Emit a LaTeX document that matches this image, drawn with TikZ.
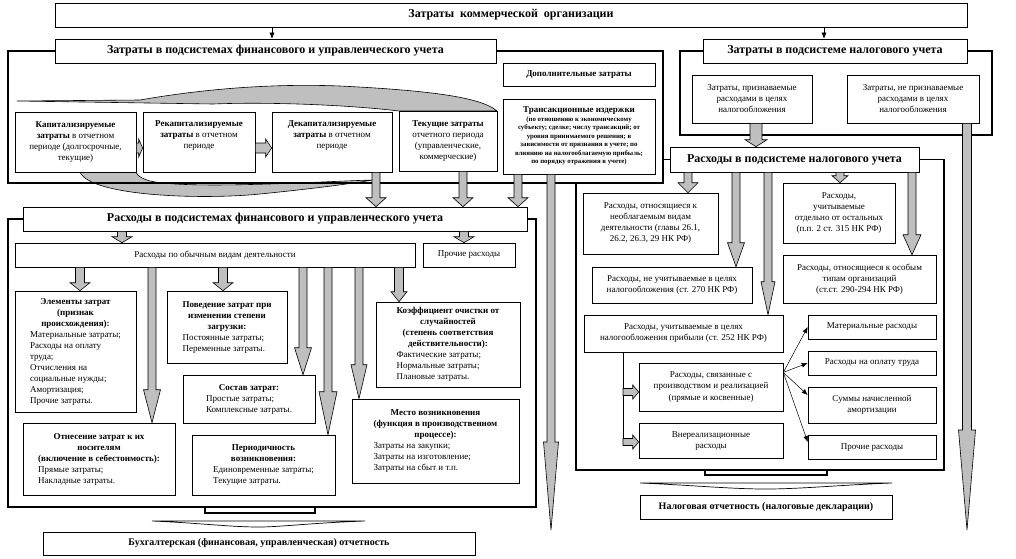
\documentclass[tikz,border=0pt]{standalone}
\usepackage{fontspec}
\setmainfont{Liberation Serif}
\usetikzlibrary{arrows.meta,calc}

\newcommand{\hdr}[1]{\multicolumn{1}{@{}c@{}}{\textbf{#1}}}
\newcommand{\gdown}[6]{%
  \filldraw[garrow] let \p1=(#2), \p2=(#3) in
    (#1-#4,\y1) -- (#1+#4,\y1) -- (#1+#4,\y2+#6pt) -- (#1+#5,\y2+#6pt)
    -- (#1,\y2) -- (#1-#5,\y2+#6pt) -- (#1-#4,\y2+#6pt) -- cycle;}
\newcommand{\gright}[6]{%
  \filldraw[garrow] let \p1=(#2), \p2=(#3) in
    (\x1,#1-#4) -- (\x2-#6pt,#1-#4) -- (\x2-#6pt,#1-#5) -- (\x2,#1)
    -- (\x2-#6pt,#1+#5) -- (\x2-#6pt,#1+#4) -- (\x1,#1+#4) -- cycle;}

\begin{document}
\begin{tikzpicture}[x=1pt,y=-1pt,
    box/.style={draw, fill=white, line width=0.6pt, inner sep=1pt, align=center,
      font=\fontsize{9}{11}\selectfont},
    bighead/.style={box, font=\bfseries\fontsize{12}{14}\selectfont},
    report/.style={box, font=\bfseries\fontsize{10}{12}\selectfont},
    frame/.style={line width=1.3pt},
    garrow/.style={fill=black!25, draw=black, line width=0.6pt},
    curvefill/.style={fill=black!25, draw=black, line width=0.6pt},
    thinarr/.style={-{Latex[length=6pt,width=5pt]}, line width=0.5pt}]
  \useasboundingbox (0,0) rectangle (1016,558);

  \filldraw[curvefill] (17,101) -- (140,100) .. controls (220,86) and (290,84) .. (340,86)
    .. controls (420,90) and (480,96) .. (497,111) -- (399,111)
    .. controls (340,104) and (260,102) .. (213,104) -- cycle;
  \filldraw[curvefill] (80,172) .. controls (90,196) and (200,200) .. (260,194)
    .. controls (320,188) and (355,183) .. (373,180)
    .. controls (330,181) and (190,190) .. (150,181)
    .. controls (140,178) and (137,175) .. (136,172) -- cycle;

  \node[bighead, minimum width=912, minimum height=24] (top) at (511,15) {Затраты\ \ коммерческой\ \ организации};
  \node[bighead, minimum width=441, minimum height=24] (fin) at (275.5,51) {Затраты в подсистемах финансового и управленческого учета};
  \node[bighead, minimum width=264, minimum height=24] (tax) at (835,51) {Затраты в подсистеме налогового учета};

  \node[box, font=\bfseries\fontsize{9}{11}\selectfont, minimum width=152, minimum height=23] (extra) at (579,74.5) {Дополнительные затраты};
  \node[box, minimum width=152, minimum height=75] (trans) at (579,136.5) {\textbf{Трансакционные издержки}\\
    {\fontsize{6.8}{8.4}\selectfont\bfseries\begin{tabular}{@{}c@{}}(по отношению к экономическому\\ субъекту; сделке; числу трансакций; от\\ уровня принимаемого решения; в\\ зависимости от признания в учете; по\\ влиянию на налогооблагаемую прибыль;\\ по порядку отражения в учете)\end{tabular}}};

  \node[box, minimum width=121, minimum height=60] (cap) at (75.5,142) {\textbf{Капитализируемые}\\ \textbf{затраты} в отчетном\\ периоде (долгосрочные,\\ текущие)};
  \node[box, minimum width=112, minimum height=60] (recap) at (199,142) {\textbf{Рекапитализируемые}\\ \textbf{затраты} в отчетном\\ периоде\\[4pt]};
  \node[box, minimum width=120, minimum height=60] (decap) at (332,142) {\textbf{Декапитализируемые}\\ \textbf{затраты} в отчетном\\ периоде\\[4pt]};
  \node[box, minimum width=98, minimum height=60] (cur) at (448,141) {\textbf{Текущие затраты}\\ отчетного периода\\ (управленческие,\\ коммерческие)};

  \node[box, minimum width=120, minimum height=48] (taxyes) at (752,99) {Затраты, признаваемые\\ расходами в целях\\ налогообложения};
  \node[box, minimum width=132, minimum height=48] (taxno) at (913,99) {Затраты, не признаваемые\\ расходами в целях\\ налогообложения};
  \node[bighead, minimum width=249, minimum height=25] (taxexp) at (794.5,159.5) {Расходы в подсистеме налогового учета};

  \node[bighead, minimum width=504, minimum height=24] (finexp) at (275,219) {Расходы в подсистемах финансового и управленческого учета};
  \node[box, minimum width=400, minimum height=24] (ordinary) at (215,255) {Расходы по обычным видам деятельности};
  \node[box, minimum width=92, minimum height=24] (other) at (469,255) {Прочие расходы};

  \node[box, minimum width=121, minimum height=121] (elem) at (75.5,351.5) {\begin{tabular}{@{}l@{}}
    \hdr{Элементы затрат}\\ \hdr{(признак}\\ \hdr{происхождения):}\\ Материальные затраты;\\ Расходы на оплату\\ труда;\\ Отчисления на\\ социальные нужды;\\ Амортизация;\\ Прочие затраты.\end{tabular}};
  \node[box, minimum width=120, minimum height=72] (behav) at (227,327) {\begin{tabular}{@{}l@{}}
    \hdr{Поведение затрат при}\\ \hdr{изменении степени}\\ \hdr{загрузки:}\\ Постоянные затраты;\\ Переменные затраты.\end{tabular}};
  \node[box, minimum width=144, minimum height=85] (coef) at (448,344.5) {\begin{tabular}{@{}l@{}}
    \hdr{Коэффициент очистки от}\\ \hdr{случайностей}\\ \hdr{(степень соответствия}\\ \hdr{действительности):}\\ Фактические затраты;\\ Нормальные затраты;\\ Плановые затраты.\end{tabular}};
  \node[box, minimum width=132, minimum height=48] (comp) at (249,399) {\begin{tabular}{@{}l@{}}
    \hdr{Состав затрат:}\\ Простые затраты;\\ Комплексные затраты.\end{tabular}};
  \node[box, minimum width=152, minimum height=72] (carrier) at (99,459) {\begin{tabular}{@{}l@{}}
    \hdr{Отнесение затрат к их}\\ \hdr{носителям}\\ \hdr{(включение в себестоимость):}\\ Прямые затраты;\\ Накладные затраты.\end{tabular}};
  \node[box, minimum width=143, minimum height=60] (period) at (263.5,465) {\begin{tabular}{@{}l@{}}
    \hdr{Периодичность}\\ \hdr{возникновения:}\\ Единовременные затраты;\\ Текущие затраты.\end{tabular}};
  \node[box, minimum width=167, minimum height=84] (place) at (435.5,441) {\begin{tabular}{@{}l@{}}
    \hdr{Место возникновения}\\ \hdr{(функция в производственном}\\ \hdr{процессе):}\\ Затраты на закупки;\\ Затраты на изготовление;\\ Затраты на сбыт и т.п.\end{tabular}};

  \node[box, minimum width=135, minimum height=61] (nontax) at (650.5,223.5) {Расходы, относящиеся к\\ необлагаемым видам\\ деятельности (главы 26.1,\\ 26.2, 26.3, 29 НК РФ)};
  \node[box, minimum width=160, minimum height=36] (notcount) at (672,285) {Расходы, не учитываемые в целях\\ налогообложения (ст. 270 НК РФ)};
  \node[box, minimum width=199, minimum height=37] (count) at (683.5,333.5) {Расходы, учитываемые в целях\\ налогообложения прибыли (ст. 252 НК РФ)};
  \node[box, minimum width=112, minimum height=60] (separate) at (839,213) {Расходы,\\ учитываемые\\ отдельно от остальных\\ (п.п. 2 ст. 315 НК РФ)};
  \node[box, minimum width=153, minimum height=48] (special) at (859.5,279) {Расходы, относящиеся к особым\\ типам организаций\\ (ст.ст. 290-294 НК РФ)};
  \node[box, minimum width=144, minimum height=48] (prod) at (711,387) {Расходы, связанные с\\ производством и реализацией\\ (прямые и косвенные)};
  \node[box, minimum width=144, minimum height=35] (nonop) at (711,440.5) {Внереализационные\\ расходы};
  \node[box, minimum width=128, minimum height=24] (mat) at (872,327) {Материальные расходы};
  \node[box, minimum width=128, minimum height=24] (labor) at (872,363) {Расходы на оплату труда};
  \node[box, minimum width=128, minimum height=36] (amort) at (872,405) {Суммы начисленной\\ амортизации};
  \node[box, minimum width=128, minimum height=24] (othertax) at (872,447) {Прочие расходы};

  \node[report, minimum width=432, minimum height=23] (acc) at (259,543.5) {Бухгалтерская (финансовая, управленческая) отчетность};
  \node[report, minimum width=252, minimum height=24] (taxrep) at (766,507) {Налоговая отчетность (налоговые декларации)};

  \draw[frame] (fin.west) -| (8,183) -| (663,51) -- (fin.east);
  \draw[frame] (tax.west) -| (680,135) -| (992,51) -- (tax.east);
  \draw[frame] (taxexp.east) -| (944,470) -| (576,183);
  \draw[frame] (taxexp.west) -- (taxexp.west -| 663,0);
  \draw[frame] (finexp.west) -| (8,507) -| (536,219) -- (finexp.east);

  \draw[frame] (205,507) -- (205,513) -- (315,513) -- (315,507);
  \draw[line width=0.7pt] (152,521) -- (365,521) .. controls (310,523) and (280,527) .. (259,527)
    .. controls (230,527) and (200,523) .. cycle;
  \draw[frame] (705,470) -- (705,475) -- (827,475) -- (827,470);
  \draw[line width=0.7pt] (640,483) -- (892,483) .. controls (840,485) and (800,489) .. (766,489)
    .. controls (730,489) and (690,485) .. cycle;

  \draw[thinarr] (272,0 |- top.south) -- (272,0 |- fin.north);
  \draw[thinarr] (824,0 |- top.south) -- (824,0 |- tax.north);

  \coordinate (transend) at (551,530);
  \coordinate (taxnoend) at (967,530);
  \coordinate (spine) at (623,445);
  \coordinate (fan) at ($(prod.north east)!0.2!(prod.south east)$);

  \gright{148}{cap.east}{recap.west}{5}{9}{4}
  \gright{148}{recap.east}{decap.west}{5}{9}{6}
  \gdown{376}{decap.south}{finexp.north}{4}{10}{9}
  \gdown{463}{cur.south}{finexp.north}{4}{10}{9}
  \gdown{518}{trans.south}{finexp.north}{4}{10}{9}
  \gdown{551}{trans.south}{transend}{4}{7.5}{88}
  \gdown{756}{taxyes.south}{taxexp.north}{6}{11}{7}
  \gdown{967}{taxno.south}{taxnoend}{4.5}{8.5}{100}

  \gdown{122}{finexp.south}{ordinary.north}{4.5}{10}{6}
  \gdown{464}{finexp.south}{other.north}{4.5}{10}{6}
  \gdown{80}{ordinary.south}{elem.north}{4.5}{10}{8}
  \gdown{152}{ordinary.south}{carrier.north}{4}{8.5}{33}
  \gdown{223}{ordinary.south}{behav.north}{4.5}{10}{8}
  \gdown{303}{ordinary.south}{comp.north}{4}{8.5}{27}
  \gdown{328}{ordinary.south}{period.north}{4}{9}{43}
  \gdown{359}{ordinary.south}{place.north}{4}{8}{34}
  \gdown{399}{ordinary.south}{coef.north}{4.5}{8}{10}

  \gdown{688}{taxexp.south}{nontax.north}{4}{10}{10}
  \gdown{736}{taxexp.south}{notcount.north}{4}{8.5}{24}
  \gdown{768}{taxexp.south}{count.north}{4}{7}{33}
  \gdown{840}{taxexp.south}{separate.north}{4}{8}{7}
  \gdown{912}{taxexp.south}{special.north}{4}{9}{20}

  \draw[line width=0.8pt] (count.south -| spine) -- (spine);
  \gright{392}{spine}{prod.west}{3.5}{7}{6}
  \gright{442}{spine}{nonop.west}{3.5}{7}{6}

  \draw[thinarr] (fan) -- (mat.west);
  \draw[thinarr] (fan) -- (labor.west);
  \draw[thinarr] (fan) -- ([yshift=10pt]amort.west);
  \draw[thinarr] (fan) -- ([yshift=5pt]othertax.west);
\end{tikzpicture}
\end{document}
